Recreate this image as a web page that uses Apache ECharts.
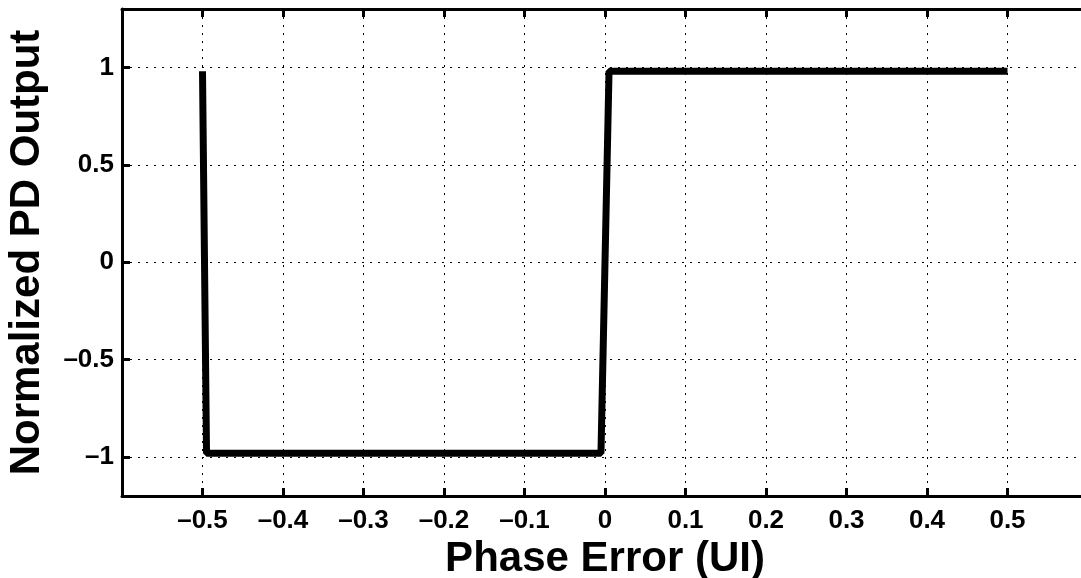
<!DOCTYPE html>
<html>
<head>
<meta charset="utf-8">
<script src="https://cdn.jsdelivr.net/npm/echarts@6/dist/echarts.min.js"></script>
<style>
  html, body { margin: 0; padding: 0; overflow: hidden; background: #fff; }
  #pd_chart { width: 1095px; height: 578px; }
</style>
</head>
<body>
<div id="pd_chart"></div>
<script>
// phase detector transfer curve
const phaseError = [-0.5, -0.495, -0.005, 0.005, 0.5];
const pdOutput = [0.98, -0.98, -0.98, 0.98, 0.98];
const yTicks = [-1, -0.5, 0, 0.5, 1];

const FONT = "'Liberation Sans', Arial, Helvetica, sans-serif";
const dash = (s) => s.replace("-", "\u2013");

const chart = echarts.init(document.getElementById("pd_chart"));

const axisLine = { show: true, onZero: false, lineStyle: { color: "#000", width: 3 } };
const tick = { show: true, inside: true, length: 8, lineStyle: { color: "#000", width: 3 } };
const grid = { show: true, lineStyle: { color: "#000", width: 1, type: [2, 6] } };

const option = {
  animation: false,
  backgroundColor: "#fff",
  grid: { left: 122, top: 9, right: 7, bottom: 82, outerBoundsMode: "none", containLabel: false },
  xAxis: [
    {
      type: "value",
      min: -0.6,
      max: 0.6,
      interval: 0.1,
      axisLine: axisLine,
      axisTick: tick,
      splitLine: grid,
      axisLabel: {
        color: "#000",
        fontFamily: FONT,
        fontWeight: "bold",
        fontSize: 26,
        margin: 12,
        formatter: (v) => (Math.abs(v) > 0.55 ? "" : dash(String(+v.toFixed(1))))
      },
      name: "Phase Error (UI)",
      nameLocation: "middle",
      nameGap: 36,
      nameTextStyle: { color: "#000", fontFamily: FONT, fontWeight: "bold", fontSize: 42 }
    },
    {
      type: "value",
      position: "top",
      min: -0.6,
      max: 0.6,
      interval: 0.1,
      axisLine: axisLine,
      axisTick: tick,
      axisLabel: { show: false },
      splitLine: { show: false }
    }
  ],
  yAxis: {
    type: "value",
    min: -1.2,
    max: 1.3,
    axisLine: axisLine,
    axisTick: Object.assign({}, tick, { customValues: yTicks }),
    splitLine: grid,
    axisLabel: {
      customValues: yTicks,
      color: "#000",
      fontFamily: FONT,
      fontWeight: "bold",
      fontSize: 26,
      margin: 8,
      formatter: (v) => dash(String(v))
    },
    name: "Normalized PD Output",
    nameLocation: "middle",
    nameGap: 74,
    nameTextStyle: { color: "#000", fontFamily: FONT, fontWeight: "bold", fontSize: 42 }
  },
  series: [
    {
      type: "line",
      data: phaseError.map((x, i) => [x, pdOutput[i]]),
      showSymbol: false,
      lineStyle: { color: "#000", width: 7 },
      xAxisIndex: 0
    }
  ]
};

chart.setOption(option);
</script>
</body>
</html>
